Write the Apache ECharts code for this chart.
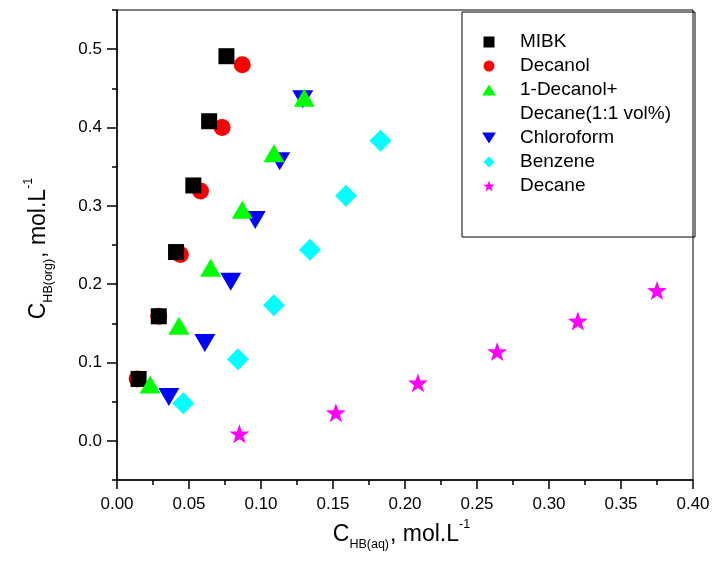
<!DOCTYPE html>
<html><head><meta charset="utf-8">
<script src="https://cdn.jsdelivr.net/npm/echarts@6/dist/echarts.min.js"></script>
<style>html,body{margin:0;padding:0;background:#fff}#c{width:714px;height:569px}</style>
</head><body><div id="c"></div>
<script>
// ---- data ----
const seriesNames = ['MIBK', 'Decanol', '1-Decanol+ Decane(1:1 vol%)', 'Chloroform', 'Benzene', 'Decane'];
const mibk      = [[0.015,0.079],[0.029,0.159],[0.041,0.241],[0.053,0.326],[0.064,0.408],[0.076,0.491]];
const decanol   = [[0.014,0.079],[0.029,0.159],[0.044,0.238],[0.058,0.319],[0.073,0.400],[0.087,0.480]];
const decMix    = [[0.023,0.072],[0.043,0.147],[0.065,0.221],[0.087,0.295],[0.109,0.367],[0.130,0.438]];
const chloro    = [[0.036,0.056],[0.061,0.125],[0.079,0.203],[0.096,0.282],[0.113,0.357],[0.129,0.436]];
const benzene   = [[0.046,0.048],[0.084,0.104],[0.109,0.173],[0.134,0.244],[0.159,0.313],[0.183,0.383]];
const decane    = [[0.085,0.009],[0.152,0.036],[0.209,0.074],[0.264,0.114],[0.320,0.153],[0.375,0.192]];
const yMajorTicks = [0, 0.1, 0.2, 0.3, 0.4, 0.5];
const yMinorTicks = [-0.05, 0.05, 0.15, 0.25, 0.35, 0.45, 0.55];

const FONT = 'Liberation Sans, Arial, sans-serif';
const STAR = 'path://M0,-1L0.235,-0.324L0.951,-0.309L0.380,0.124L0.588,0.809L0,0.4L-0.588,0.809L-0.380,0.124L-0.951,-0.309L-0.235,-0.324Z';
const TRI_UP = 'path://M0,-0.8L1,0.8L-1,0.8Z';
const TRI_DN = 'path://M-1,-0.8L1,-0.8L0,0.8Z';
const SQUARE = 'path://M-1,-1L1,-1L1,1L-1,1Z';
const DIAMOND = 'path://M0,-1L1,0L0,1L-1,0Z';
const mixLine2 = 'Decane(1:1 vol%)';

const chart = echarts.init(document.getElementById('c'), null, {renderer: 'canvas'});
const titleRich = {
  c:  {fontSize: 23, lineHeight: 24, fontFamily: FONT, color: '#000'},
  m:  {fontSize: 23, lineHeight: 24, fontFamily: FONT, color: '#000', padding: [0, 0, 0, 1]},
  s:  {fontSize: 12.5, lineHeight: 14, fontFamily: FONT, color: '#000', padding: [20, 0, 0, 0]},
  p:  {fontSize: 12.5, lineHeight: 14, fontFamily: FONT, color: '#000', padding: [0, 7, 20, 0]}
};
const axisLineStyle = {color: '#000', width: 1.5};

chart.setOption({
  animation: false,
  backgroundColor: '#fff',
  grid: {left: 117, right: 21, top: 10, bottom: 89, show: true, borderColor: '#000', borderWidth: 1, outerBoundsMode: 'none'},
  xAxis: {
    type: 'value', min: 0, max: 0.4, interval: 0.05,
    axisLine: {show: true, onZero: false, lineStyle: axisLineStyle},
    axisTick: {show: true, length: 9, lineStyle: axisLineStyle},
    minorTick: {show: true, splitNumber: 2, length: 5, lineStyle: axisLineStyle},
    splitLine: {show: false}, minorSplitLine: {show: false},
    axisLabel: {formatter: v => v.toFixed(2), fontSize: 17, fontFamily: FONT, color: '#000', margin: 16},
    name: '{c|C}{s|HB(aq)}{m|, mol.L}{p|-1}', nameLocation: 'middle', nameGap: 36,
    nameTextStyle: {rich: titleRich}
  },
  yAxis: [{
    type: 'value', min: -0.05, max: 0.55,
    axisLine: {show: true, onZero: false, lineStyle: axisLineStyle},
    axisTick: {show: true, length: 10, customValues: yMajorTicks, lineStyle: axisLineStyle},
    axisLabel: {customValues: yMajorTicks, formatter: v => v.toFixed(1), fontSize: 17, fontFamily: FONT, color: '#000', margin: 15},
    splitLine: {show: false},
    name: '{c|C}{s|HB(org)}{m|, mol.L}{p|-1}', nameLocation: 'middle', nameGap: 66, nameRotate: 90,
    nameTextStyle: {rich: titleRich}
  }, {
    type: 'value', min: -0.05, max: 0.55, position: 'left',
    axisLine: {show: false},
    axisTick: {show: true, length: 5, customValues: yMinorTicks, lineStyle: axisLineStyle},
    axisLabel: {show: false}, splitLine: {show: false}
  }],
  legend: {
    orient: 'vertical', left: 462, top: 12, padding: [18, 24, 39, 1],
    itemGap: 0, itemWidth: 52, itemHeight: 11, selectedMode: false,
    borderColor: '#000', borderWidth: 1,
    textStyle: {fontSize: 19, lineHeight: 24, fontFamily: FONT, color: '#000'},
    formatter: n => n === seriesNames[2] ? '1-Decanol+' : n,
    data: [
      {name: seriesNames[0], icon: SQUARE},
      {name: seriesNames[1], icon: 'circle'},
      {name: seriesNames[2], icon: TRI_UP},
      {name: mixLine2, icon: 'rect', itemStyle: {color: 'rgba(0,0,0,0)'}},
      {name: seriesNames[3], icon: TRI_DN},
      {name: seriesNames[4], icon: DIAMOND},
      {name: seriesNames[5], icon: STAR}
    ]
  },
  series: [
    {name: seriesNames[1], type: 'scatter', data: decanol, symbol: 'circle', symbolSize: 17, itemStyle: {color: '#ff0000', opacity: 1}},
    {name: seriesNames[0], type: 'scatter', data: mibk, symbol: 'rect', symbolSize: 16, itemStyle: {color: '#000000', opacity: 1}},
    {name: seriesNames[3], type: 'scatter', data: chloro, symbol: 'path://M-1,-1L1,-1L0,1Z', symbolSize: [21, 18], itemStyle: {color: '#0000ff', opacity: 1}},
    {name: seriesNames[2], type: 'scatter', data: decMix, symbol: 'triangle', symbolSize: [21, 18], itemStyle: {color: '#00ff00', opacity: 1}},
    {name: seriesNames[4], type: 'scatter', data: benzene, symbol: 'diamond', symbolSize: [22, 22], itemStyle: {color: '#00ffff', opacity: 1}},
    {name: seriesNames[5], type: 'scatter', data: decane, symbol: STAR, symbolSize: [20, 19], itemStyle: {color: '#ff00ff', opacity: 1}},
    {name: mixLine2, type: 'scatter', data: [], itemStyle: {color: 'rgba(0,0,0,0)'}}
  ]
});
</script>
</body></html>
